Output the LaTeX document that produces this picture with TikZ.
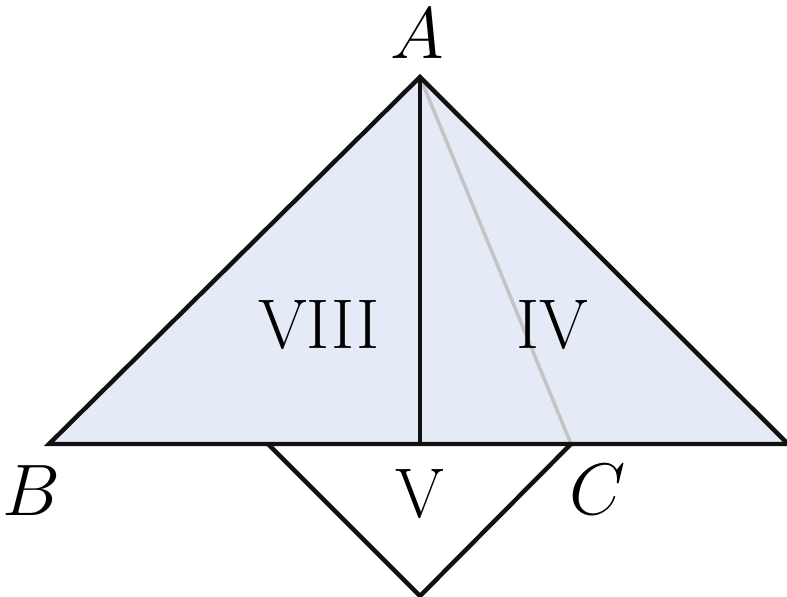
\documentclass[tikz,border=0pt]{standalone}
\begin{document}
\begin{tikzpicture}[x=0.01cm, y=-0.01cm]
    \definecolor{borderColour}{HTML}{111111}
    \definecolor{fillColourTri}{HTML}{E4EBF7}
    \definecolor{diagColour}{HTML}{C4C4C4}

    \tikzset{
        edge/.style={draw=borderColour, line width=1.25pt, line join=miter},
        lbl/.style={inner sep=0pt, font=\fontsize{20}{24}\selectfont}
    }

    \useasboundingbox (0,0) rectangle (787,596);

    % Vertices of the large triangle
    \coordinate (A) at (420,77);
    \coordinate (B) at (49,444);
    \coordinate (R) at (788,444);
    \coordinate (F) at (420,444);
    \coordinate (C) at (571,444);

    % Lower triangle below BC
    \coordinate (L) at (268,444);
    \coordinate (D) at (420,596);

    % Large triangle
    \fill[fillColourTri] (A) -- (B) -- (R) -- cycle;

    % Gray line from A to C
    \draw[diagColour, line width=1pt] (A) -- (C);

    \draw[edge] (A) -- (B) -- (R) -- cycle;
    \draw[edge] (A) -- (F);
    \draw[edge] (L) -- (D) -- (C);

    % Labels
    \node[lbl] (labA) at (417,34) {$A$};
    \node[lbl] (labB) at (31,491) {$B$};
    \node[lbl] (labC) at (598,490) {$C$};
    \node[lbl] (labV) at (420,494) {V};
    \node[lbl] (labVIII) at (319,325) {VIII};
    \node[lbl] (labIV) at (552,325) {IV};

\end{tikzpicture}
\end{document}
